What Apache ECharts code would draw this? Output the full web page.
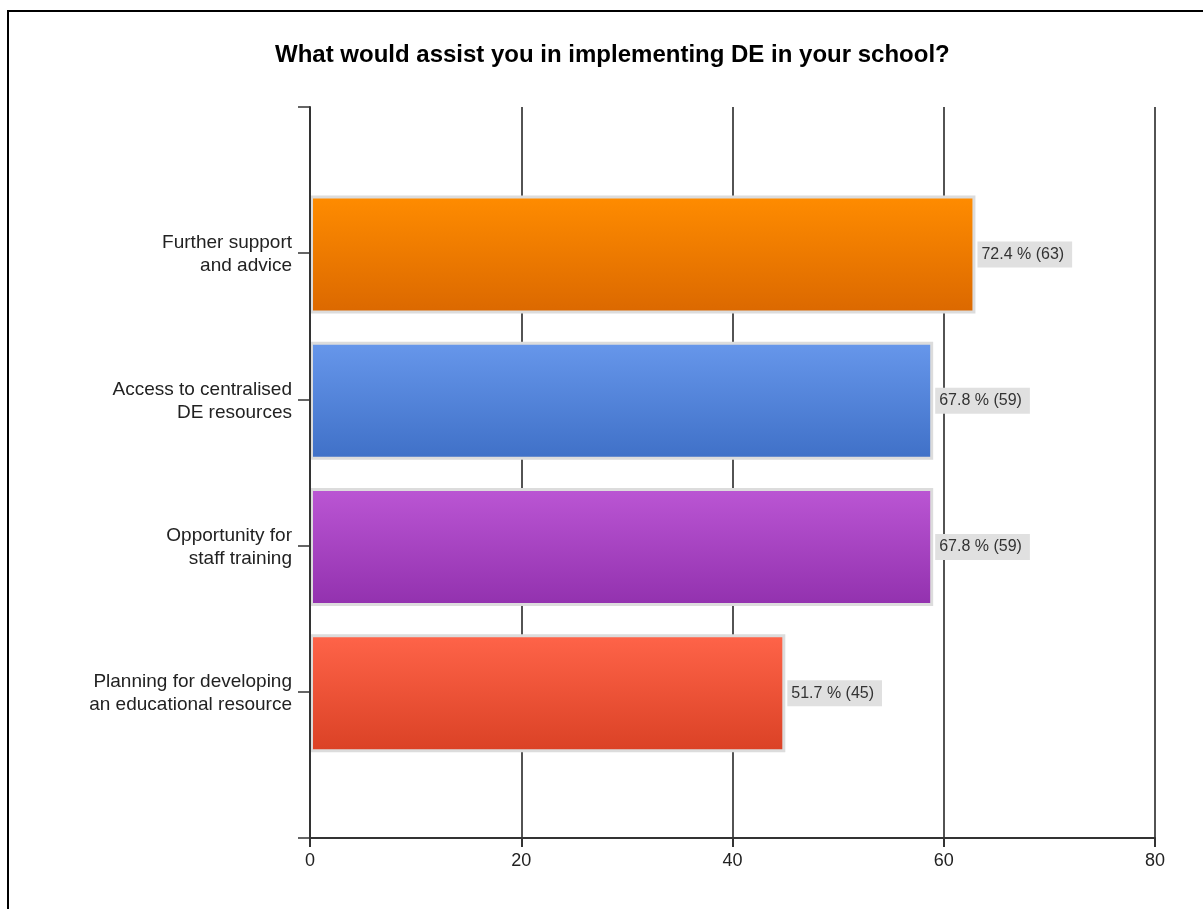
<!DOCTYPE html>
<html>
<head>
<meta charset="utf-8">
<script src="https://cdn.jsdelivr.net/npm/echarts@6/dist/echarts.min.js"></script>
<style>
  html, body { margin: 0; padding: 0; background: #fff; }
  #chart { width: 1203px; height: 909px; }
</style>
</head>
<body>
<div id="chart"></div>
<script>
// ---- data ----
const titleText = 'What would assist you in implementing DE in your school?';
const categories = [
  'Further support\nand advice',
  'Access to centralised\nDE resources',
  'Opportunity for\nstaff training',
  'Planning for developing\nan educational resource'
];
const counts = [63, 59, 59, 45];
const percents = [72.4, 67.8, 67.8, 51.7];
const xTicks = [0, 20, 40, 60, 80];

// ---- style ----
const barGradients = [
  ['#ff8c00', '#db6800'],
  ['#6797eb', '#3f70c7'],
  ['#bb56d4', '#9231ae'],
  ['#ff6449', '#da4125']
];
const FONT = '"Liberation Sans", Arial, sans-serif';

const chart = echarts.init(document.getElementById('chart'), null, { renderer: 'canvas' });

const barData = counts.map((v, i) => ({
  value: v,
  itemStyle: {
    color: new echarts.graphic.LinearGradient(0, 0, 0, 1, [
      { offset: 0, color: barGradients[i][0] },
      { offset: 1, color: barGradients[i][1] }
    ])
  }
}));

chart.setOption({
  backgroundColor: '#ffffff',
  animation: false,
  title: {
    text: titleText,
    left: 270,
    top: 38,
    textStyle: { fontFamily: FONT, fontWeight: 'bold', fontSize: 24, color: '#000' }
  },
  graphic: [{
    type: 'rect',
    shape: { x: 8, y: 11, width: 1400, height: 1200 },
    style: { fill: 'none', stroke: '#000', lineWidth: 2 },
    z: 100
  }],
  grid: [
    { left: 310, right: 48, top: 107, bottom: 71 },
    { left: 310, right: 48, top: 181.5, bottom: 142.7 }
  ],
  xAxis: [
    {
      gridIndex: 0, type: 'value', position: 'bottom',
      min: xTicks[0], max: xTicks[xTicks.length - 1], interval: 20,
      axisLine: { show: true, onZero: false, lineStyle: { color: '#333', width: 2 } },
      axisTick: { show: true, length: 9, lineStyle: { color: '#333', width: 2 } },
      axisLabel: { show: true, margin: 14, fontFamily: FONT, fontSize: 18, color: '#222' },
      splitLine: { show: true, lineStyle: { color: '#1a1a1a', width: 1.5 } },
      z: 1
    },
    {
      gridIndex: 1, type: 'value', min: xTicks[0], max: xTicks[xTicks.length - 1],
      show: false
    }
  ],
  yAxis: [
    {
      gridIndex: 0, type: 'value', min: 0, max: 5, interval: 1, inverse: true,
      axisLine: { show: true, onZero: false, lineStyle: { color: '#333', width: 2 } },
      axisTick: { show: true, length: 12, lineStyle: { color: '#333', width: 1.5 } },
      axisLabel: { show: false },
      splitLine: { show: false },
      z: 5
    },
    {
      gridIndex: 1, type: 'category', data: categories, inverse: true,
      axisLine: { show: false },
      axisTick: { show: false },
      splitLine: { show: false },
      axisLabel: {
        show: true, margin: 18, fontFamily: FONT, fontSize: 19, lineHeight: 23,
        color: '#222', align: 'right'
      }
    }
  ],
  series: [{
    type: 'bar',
    xAxisIndex: 1,
    yAxisIndex: 1,
    data: barData,
    barWidth: 118,
    itemStyle: { borderColor: '#dcdcdc', borderWidth: 3 },
    label: {
      show: true,
      position: 'right',
      distance: 2,
      formatter: (p) => percents[p.dataIndex] + ' % (' + counts[p.dataIndex] + ')',
      fontFamily: FONT,
      fontSize: 16,
      color: '#333',
      backgroundColor: '#e0e0e0',
      padding: [5, 8, 5, 4]
    },
    z: 2
  }]
});
</script>
</body>
</html>
